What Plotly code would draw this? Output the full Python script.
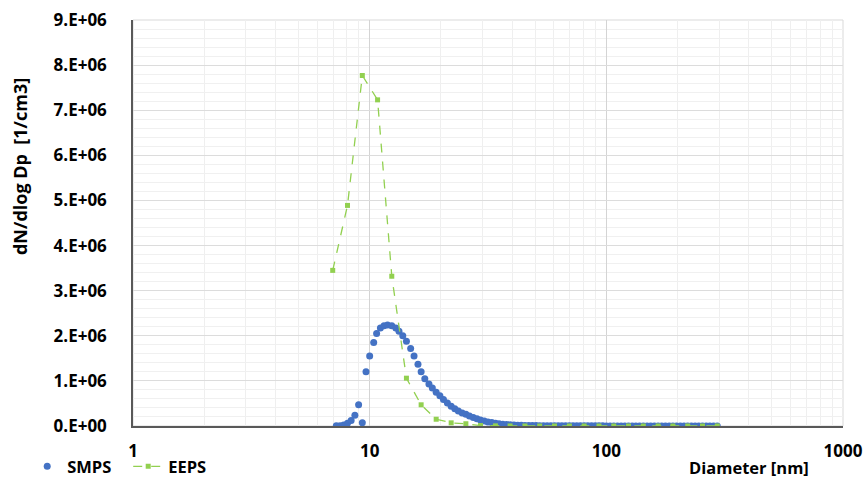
import plotly.graph_objects as go

# ---------------- data ----------------
smps_diameter_nm = [
    7.23, 7.50, 7.77, 8.06, 8.35, 8.66, 8.98, 9.31, 9.65, 10.0,
    10.4, 10.7, 11.1, 11.5, 11.9, 12.4, 12.9, 13.3, 13.8, 14.3,
    14.9, 15.4, 16.0, 16.5, 17.1, 17.8, 18.4, 19.1, 19.8, 20.5,
    21.3, 22.1, 22.9, 23.7, 24.6, 25.5, 26.4, 27.4, 28.4, 29.4,
    30.5, 31.6, 32.8, 34.0, 35.2, 36.5, 37.9, 39.2, 40.7, 42.2,
    43.7, 45.3, 47.0, 48.7, 50.5, 52.3, 54.2, 56.2, 58.3, 60.4,
    62.6, 64.9, 67.3, 69.8, 72.3, 75.0, 77.7, 80.6, 83.5, 86.6,
    89.8, 93.1, 96.5, 100.0, 103.7, 107.5, 111.4, 115.5, 119.7, 124.1,
    128.6, 133.3, 138.2, 143.3, 148.6, 154.0, 159.6, 165.5, 171.5, 177.8,
    184.4, 191.1, 198.1, 205.4, 212.9, 220.7, 228.8, 237.2, 245.8, 254.8,
    264.2, 273.8, 283.9, 294.3,
]
smps_dndlogdp = [
    3e3, 5e3, 2.0e4, 6.0e4, 1.2e5, 2.4e5, 4.7e5, 7.0e4, 1.20e6, 1.55e6,
    1.85e6, 2.05e6, 2.17e6, 2.22e6, 2.24e6, 2.22e6, 2.17e6, 2.10e6, 2.00e6, 1.88e6,
    1.72e6, 1.55e6, 1.37e6, 1.20e6, 1.05e6, 9.3e5, 8.4e5, 7.5e5, 6.7e5, 5.9e5,
    5.1e5, 4.4e5, 3.8e5, 3.3e5, 2.9e5, 2.6e5, 2.2e5, 1.9e5, 1.6e5, 1.35e5,
    1.1e5, 9.0e4, 7.5e4, 6.0e4, 5.0e4, 4.0e4, 3.3e4, 2.7e4, 2.2e4, 1.8e4,
    1.5e4, 1.3e4, 1.1e4, 1.0e4, 9e3, 8e3, 7e3, 6e3, 6e3, 5e3,
    5e3, 5e3, 4e3, 4e3, 4e3, 4e3, 3e3, 3e3, 3e3, 3e3,
    3e3, 3e3, 3e3, 2e3, 2e3, 2e3, 2e3, 2e3, 2e3, 2e3,
    2e3, 2e3, 2e3, 2e3, 2e3, 1e3, 1e3, 1e3, 1e3, 1e3,
    1e3, 1e3, 1e3, 1e3, 1e3, 1e3, 1e3, 1e3, 1e3, 1e3,
    1e3, 1e3, 1e3, 1e3,
]

eeps_diameter_nm = [
    6.98, 8.06, 9.31, 10.8, 12.4, 14.3, 16.5, 19.1, 22.1, 25.5,
    29.4, 34.0, 39.2, 45.3, 52.3, 60.4, 69.8, 80.6, 93.1, 107.5,
    124.1, 143.3, 165.5, 191.1, 220.7, 254.8, 294.3,
]
eeps_dndlogdp = [
    3.45e6, 4.89e6, 7.77e6, 7.23e6, 3.32e6, 1.06e6, 4.7e5, 1.5e5, 7.0e4, 5.0e4,
    1.0e4, 3e3, 1e3, 0, 0, 0, 0, 0, 0, 0,
    0, 0, 0, 0, 0, 0, 0,
]

x_tick_values = [1, 10, 100, 1000]
x_tick_labels = ["1", "10", "100", "1000"]
y_tick_values = [0, 1e6, 2e6, 3e6, 4e6, 5e6, 6e6, 7e6, 8e6, 9e6]
y_tick_labels = ["0.E+00", "1.E+06", "2.E+06", "3.E+06", "4.E+06",
                 "5.E+06", "6.E+06", "7.E+06", "8.E+06", "9.E+06"]

# ---------------- style ----------------
FONT = "Open Sans"
TXT = "#000000"
SMPS_COLOR = "#4472C4"
EEPS_COLOR = "#92D050"
BOLD = dict(family=FONT, size=17, color=TXT, weight="bold")
BOLD_AX = dict(family=FONT, size=16.5, color=TXT, weight="bold")
BOLD_YT = dict(family=FONT, size=18, color=TXT, weight="bold")

minor_x = [m * d for d in (1, 10, 100) for m in range(2, 10)]

fig = go.Figure()
fig.add_trace(go.Scatter(
    x=smps_diameter_nm, y=smps_dndlogdp, name="SMPS", mode="markers",
    marker=dict(symbol="circle", size=7, color=SMPS_COLOR),
))
fig.add_trace(go.Scatter(
    x=eeps_diameter_nm, y=eeps_dndlogdp, name="EEPS", mode="lines+markers",
    line=dict(color=EEPS_COLOR, width=1.3, dash="dash"),
    marker=dict(symbol="square", size=5, color=EEPS_COLOR),
))

fig.update_layout(
    width=865, height=482,
    margin=dict(l=133, r=22, t=20, b=56, autoexpand=False),
    paper_bgcolor="white", plot_bgcolor="white",
    font=BOLD,
    showlegend=True,
    legend=dict(
        orientation="h", x=-0.149, y=-0.1, xanchor="left", yanchor="middle",
        font=BOLD_AX, bgcolor="rgba(0,0,0,0)", entrywidth=56, itemwidth=30,
    ),
    xaxis=dict(
        type="log", range=[0, 3],
        tickmode="array", tickvals=x_tick_values, ticktext=x_tick_labels,
        tickfont=BOLD,
        showgrid=True, gridcolor="#d4d4d4", gridwidth=1,
        minor=dict(tickmode="array", tickvals=minor_x, showgrid=True,
                   gridcolor="#efefef", gridwidth=1, ticks=""),
        showline=True, linecolor="#595959", linewidth=1.5,
        zeroline=False, ticks="", ticklabelstandoff=9,
    ),
    yaxis=dict(
        range=[0, 9e6],
        tickmode="array", tickvals=y_tick_values, ticktext=y_tick_labels,
        tickfont=BOLD,
        showgrid=True, gridcolor="#dcdcdc", gridwidth=1,
        minor=dict(dtick=2e5, showgrid=True, gridcolor="#f0f0f0",
                   gridwidth=1, ticks=""),
        showline=True, linecolor="#595959", linewidth=1.5,
        zeroline=False, ticks="", ticklabelstandoff=21,
    ),
    shapes=[dict(type="rect", xref="paper", yref="paper", x0=0, x1=1, y0=0, y1=1,
                 line=dict(color="#d9d9d9", width=1), layer="below")],
    annotations=[
        dict(text="dN/dlog Dp\u00a0\u00a0[1/cm3]", xref="paper", yref="paper",
             x=-0.159, y=0.638, textangle=-90, showarrow=False,
             font=BOLD_YT, xanchor="center", yanchor="middle"),
        dict(text="Diameter [nm]", xref="paper", yref="paper",
             x=0.867, y=-0.101, showarrow=False,
             font=BOLD_AX, xanchor="center", yanchor="middle"),
    ],
)

fig.write_html("out.html")
